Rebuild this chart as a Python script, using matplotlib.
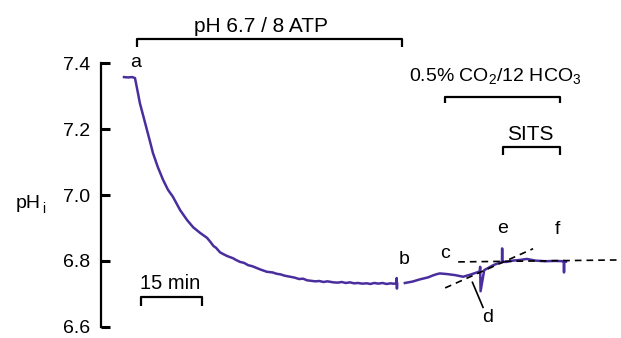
import numpy as np
import matplotlib
matplotlib.use("Agg")
import matplotlib.pyplot as plt

plt.rcParams['font.family'] = ['Liberation Sans', 'DejaVu Sans']
plt.rcParams['mathtext.fontset'] = 'custom'
plt.rcParams['mathtext.rm'] = 'Liberation Sans'

# trace: time (min) and pHi
t1 = [0, 1.0, 2.0, 2.7, 3.1, 3.5, 3.9, 4.8, 5.65, 6.4, 7.1, 8.3, 9.6, 10.8,
      12.0, 13.8, 15.5, 17.0, 18.7, 20.4, 21.2, 22.0, 22.6, 23.6, 24.5, 25.3,
      26.8, 27.5, 28.5, 29.5, 30.5, 31.5, 32.5, 33.5, 35.1, 36.5, 37.5, 38.5,
      39.5, 40.8, 42.0, 43.0, 44.0, 45.0, 45.7, 47.0, 48.0, 49.0, 50.0, 51.4,
      52.5, 53.5, 54.5, 55.5, 56.5, 57.5, 58.5, 59.7, 60.5, 61.5, 62.5, 63.5,
      64.5, 65.5, 66.1, 66.6, 66.9, 67.0, 67.05, 67.1]
ph1 = [7.358, 7.357, 7.358, 7.355, 7.330, 7.305, 7.279, 7.237, 7.197, 7.162,
       7.128, 7.085, 7.046, 7.016, 6.995, 6.954, 6.924, 6.902, 6.885, 6.870,
       6.858, 6.845, 6.840, 6.826, 6.820, 6.815, 6.808, 6.803, 6.797, 6.794,
       6.787, 6.784, 6.779, 6.774, 6.767, 6.765, 6.761, 6.759, 6.755, 6.752,
       6.749, 6.745, 6.746, 6.741, 6.740, 6.738, 6.739, 6.736, 6.738, 6.735,
       6.734, 6.736, 6.733, 6.735, 6.732, 6.733, 6.731, 6.732, 6.730, 6.733,
       6.731, 6.733, 6.730, 6.732, 6.731, 6.731, 6.731, 6.748, 6.716, 6.731]

t2 = [69.0, 70.8, 72.7, 74.7, 75.9, 76.9, 77.6, 79.4, 81.3, 83.3, 85.0, 86.7,
      87.4, 87.5, 87.6, 88.5, 90.7, 92.4, 92.85, 92.9, 92.95, 93.9, 95.6,
      97.3, 99.0, 101.0, 103.4, 105.9, 107.9, 108.05, 108.1, 108.15, 108.6]
ph2 = [6.733, 6.737, 6.744, 6.750, 6.756, 6.760, 6.762, 6.760, 6.757, 6.752,
       6.758, 6.765, 6.768, 6.782, 6.708, 6.772, 6.787, 6.795, 6.796, 6.838,
       6.797, 6.797, 6.801, 6.803, 6.806, 6.801, 6.799, 6.800, 6.799, 6.800,
       6.765, 6.799, 6.798]

yticks = [6.6, 6.8, 7.0, 7.2, 7.4]
ylabels = ['6.6', '6.8', '7.0', '7.2', '7.4']

trace_col = '#4a2e9e'

fig = plt.figure(figsize=(6.21, 3.38), dpi=100)
ax = fig.add_axes([101 / 621, 0, 520 / 621, 1])
ax.set_xlim(-5.65, 122.1)
ax.set_ylim(6.566, 7.592)

ax.plot(t1, ph1, color=trace_col, lw=1.8, clip_on=False)
ax.plot(t2, ph2, color=trace_col, lw=1.8, clip_on=False)

# axis
for s in ['top', 'right', 'bottom']:
    ax.spines[s].set_visible(False)
ax.spines['left'].set_bounds(6.6, 7.4)
ax.spines['left'].set_linewidth(1.6)
ax.set_xticks([])
ax.set_yticks(yticks)
ax.set_yticklabels(ylabels)
ax.tick_params(axis='y', direction='in', length=6.5, width=2.2, labelsize=14, pad=8)
ax.patch.set_visible(False)

fig.text(16 / 621, 1 - 208 / 338, 'pH', fontsize=14, ha='left', va='baseline')
fig.text(42 / 621, 1 - 213 / 338, 'i', fontsize=10, ha='left', va='baseline')

k = dict(color='black', lw=1.6, clip_on=False, solid_capstyle='butt')

# pH 6.7 / 8 ATP bracket
ax.plot([3.2, 3.2, 68.3, 68.3], [7.450, 7.473, 7.473, 7.450], **k)
ax.text(33.7, 7.495, 'pH 6.7 / 8 ATP', fontsize=15, ha='center', va='baseline')

# CO2 bracket
ax.plot([78.9, 78.9, 107.1, 107.1], [7.279, 7.299, 7.299, 7.279], **k)
ax.text(70.0, 7.343, r'0.5% CO$_\mathregular{2}$/12 HCO$_\mathregular{3}$',
        fontsize=14, ha='left', va='baseline')

# SITS bracket
ax.plot([93.2, 93.2, 107.0, 107.0], [7.121, 7.147, 7.147, 7.121], **k)
ax.text(99.9, 7.167, 'SITS', fontsize=15, ha='center', va='baseline')

# 15 min scale bar
ax.plot([4.2, 4.2, 19.2, 19.2], [6.663, 6.691, 6.691, 6.663], **k)
ax.text(11.4, 6.714, '15 min', fontsize=14.5, ha='center', va='baseline')

# dashed guides
ax.plot([82.1, 122.1], [6.797, 6.803], color='black', lw=1.2,
        ls=(0, (4, 3)), clip_on=False)
ax.plot([78.9, 100.5], [6.718, 6.837], color='black', lw=1.2,
        ls=(0, (4, 3)), clip_on=False)
ax.plot([85.6, 88.2], [6.735, 6.659], color='black', lw=1.2, clip_on=False)

# point letters
for lab, x, y in [('a', 2.9, 7.402), ('b', 68.8, 6.803), ('c', 78.9, 6.824),
                  ('d', 89.4, 6.627), ('e', 93.1, 6.897), ('f', 106.6, 6.894)]:
    ax.text(x, y, lab, fontsize=14, ha='center', va='center')

fig.savefig('out.png', dpi=100)
